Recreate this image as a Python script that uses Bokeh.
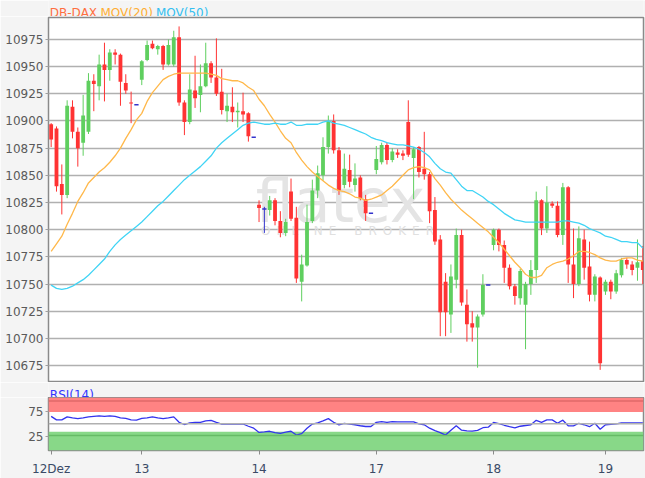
from bokeh.plotting import figure
from bokeh.models import Range1d, FixedTicker, ColumnDataSource, BoxAnnotation, Span
from bokeh.layouts import column
from bokeh.embed import file_html
from bokeh.resources import INLINE
from bokeh.core.properties import value

# ---------------- data ----------------
day_ticks = [0, 17, 39, 61, 83, 104]
day_labels = ["12Dez", "13", "14", "17", "18", "19"]

opens = [10897, 10893, 10842, 10832, 10913, 10890, 10880, 10890, 10937, 10932, 10952, 10947, 10963, 10961, 10935, 10917, 10915,
         10938, 10956, 10971, 10966, 10969, 10952, 10952, 10977, 10917, 10899, 10928, 10924, 10932, 10953, 10940, 10927, 10909, 10913, 10908, 10909, 10907, 10885,
         10823, 10819, 10818, 10827, 10808, 10797, 10835, 10811, 10752, 10767, 10808, 10836, 10850, 10876, 10900, 10873, 10841, 10855, 10841, 10848, 10828, 10815,
         10855, 10862, 10878, 10864, 10871, 10870, 10899, 10866, 10876, 10856, 10851, 10818, 10791, 10752, 10722, 10754, 10795, 10731, 10714, 10710, 10722, 10749,
         10786, 10800, 10786, 10765, 10748, 10737, 10731, 10750, 10763, 10827, 10801, 10824, 10822, 10795, 10839, 10768, 10750, 10791, 10766, 10740, 10756,
         10743, 10752, 10743, 10758, 10772, 10768, 10765, 10771]
highs = [10898, 10895, 10860, 10919, 10919, 10894, 10924, 10944, 10943, 10961, 10972, 10966, 10966, 10962, 10943, 10927, 10915,
         10956, 10974, 10974, 10970, 10970, 10975, 10983, 10987, 10919, 10943, 10960, 10952, 10972, 10955, 10976, 10948, 10925, 10931, 10917, 10926, 10908, 10885,
         10827, 10821, 10831, 10829, 10817, 10810, 10847, 10821, 10777, 10823, 10846, 10859, 10885, 10905, 10906, 10876, 10870, 10869, 10861, 10850, 10832, 10815,
         10877, 10880, 10880, 10875, 10874, 10873, 10919, 10876, 10877, 10890, 10853, 10830, 10795, 10760, 10768, 10801, 10800, 10745, 10725, 10722, 10759, 10749,
         10801, 10801, 10790, 10768, 10750, 10764, 10752, 10772, 10835, 10828, 10840, 10826, 10826, 10843, 10840, 10801, 10803, 10800, 10789, 10759, 10757,
         10754, 10754, 10763, 10774, 10774, 10771, 10791, 10785]
lows = [10876, 10835, 10814, 10829, 10884, 10858, 10868, 10888, 10909, 10919, 10918, 10937, 10952, 10914, 10925, 10898, 10915,
        10933, 10955, 10966, 10961, 10947, 10951, 10950, 10914, 10887, 10897, 10912, 10908, 10931, 10935, 10923, 10906, 10899, 10899, 10894, 10899, 10881, 10885,
        10807, 10797, 10813, 10804, 10793, 10794, 10808, 10751, 10734, 10766, 10806, 10829, 10845, 10870, 10870, 10832, 10838, 10839, 10835, 10827, 10808, 10815,
        10851, 10860, 10860, 10862, 10866, 10864, 10867, 10828, 10848, 10846, 10806, 10786, 10702, 10702, 10705, 10746, 10730, 10697, 10697, 10673, 10720, 10749,
        10781, 10780, 10751, 10745, 10731, 10731, 10690, 10740, 10751, 10795, 10797, 10820, 10793, 10786, 10751, 10737, 10748, 10754, 10734, 10734, 10671,
        10740, 10736, 10741, 10756, 10764, 10758, 10753, 10750]
closes = [10883, 10840, 10832, 10914, 10890, 10875, 10905, 10937, 10934, 10952, 10947, 10963, 10961, 10936, 10928, 10916, 10915,
          10955, 10970, 10967, 10969, 10952, 10970, 10977, 10917, 10899, 10929, 10921, 10932, 10953, 10940, 10925, 10910, 10914, 10908, 10909.5, 10906, 10886, 10885,
          10820, 10819, 10827, 10808, 10797, 10807, 10810, 10755, 10768, 10807, 10836, 10852, 10876, 10900, 10873, 10836, 10856, 10844, 10847, 10829, 10815, 10815,
          10865, 10878, 10864, 10872, 10869, 10868, 10869, 10874, 10853, 10851, 10817, 10789, 10724, 10724, 10757, 10795, 10733, 10713, 10710, 10720, 10749, 10749,
          10800, 10786, 10765, 10748, 10739, 10762, 10750, 10763, 10827, 10801, 10825, 10822, 10795, 10839, 10768, 10750, 10792, 10765, 10740, 10757, 10677,
          10752, 10743, 10760, 10772, 10768, 10763, 10770, 10763]

mov20 = [10780, 10787, 10794, 10805, 10815, 10826, 10834, 10843, 10848, 10853, 10857, 10862, 10868, 10875, 10884, 10892, 10901,
         10907, 10918, 10926, 10932, 10938, 10941, 10943, 10944, 10944, 10944, 10944, 10944, 10944, 10943, 10942, 10939, 10938, 10937, 10937, 10935, 10931, 10928,
         10920, 10914, 10906, 10899, 10891, 10884, 10880, 10871, 10864, 10858, 10853, 10849, 10845, 10841, 10838, 10836, 10835, 10833, 10830, 10829, 10827, 10828,
         10830, 10832, 10836, 10840, 10845, 10850, 10855, 10857, 10858, 10857, 10855, 10847, 10841, 10834, 10828, 10823, 10818, 10814, 10810, 10806, 10802, 10798,
         10793, 10788, 10782, 10776, 10770, 10765, 10759, 10756, 10756, 10758, 10765, 10768, 10770, 10771, 10773, 10776, 10780, 10780, 10779, 10777, 10774,
         10772, 10771, 10771, 10773, 10774, 10774, 10772, 10771]
mov50 = [10749, 10746, 10745, 10746, 10748, 10751, 10754, 10758, 10763, 10768, 10773, 10780, 10786, 10791, 10795, 10799, 10803,
         10807, 10812, 10817, 10822, 10826, 10831, 10836, 10841, 10846, 10850, 10854, 10858, 10863, 10868, 10875, 10880, 10884, 10888, 10892, 10896, 10898, 10899,
         10898, 10897, 10897, 10898, 10897, 10897, 10899, 10896, 10896, 10897, 10897, 10897, 10899, 10900, 10898, 10897, 10896, 10894, 10892, 10890, 10888, 10885,
         10883, 10882, 10880, 10879, 10878, 10878, 10877, 10876, 10874, 10871, 10867, 10861, 10856, 10853, 10852, 10846, 10840, 10836, 10836, 10833, 10830, 10826,
         10823, 10819, 10815, 10812, 10809, 10808, 10807, 10807, 10807, 10807, 10807, 10807, 10807, 10808, 10808, 10807, 10806, 10804, 10801, 10799, 10797,
         10794, 10793, 10791, 10789, 10789, 10788, 10788, 10783]
rsi14 = [66, 59, 59, 65, 63, 61.5, 63, 65, 66, 67, 66, 67, 66, 63, 62, 59, 58.5,
         62, 63, 65, 63, 61.5, 63, 65, 54, 49.5, 53, 54, 54, 57, 58, 54, 50.5, 50.5, 50.5, 50.5, 50.5, 46, 42,
         33.5, 34.5, 35.8, 33, 31.5, 34, 35.8, 28, 31, 42, 50.5, 53, 57, 61.5, 54, 48.7, 52, 50.5, 49, 47, 45.5, 45.5,
         54, 55.5, 54, 55.5, 55, 55, 55, 55, 50.6, 49, 42, 37, 33, 28, 38, 47, 38, 36.5, 36, 37.5, 43, 44,
         53.8, 51.5, 48, 45, 42.5, 46, 47.5, 49, 58, 54, 58.9, 58.9, 52, 58.3, 47, 46.7, 52, 49, 45, 52, 40,
         49, 50, 50.6, 52.6, 52.6, 52.6, 52.6, 52.6]

price_ticks = [10675, 10700, 10725, 10750, 10775, 10800, 10825, 10850, 10875, 10900, 10925, 10950, 10975]
rsi_ticks = [25, 75]
rsi_overbought = [75, 104.4]
rsi_oversold = [-3.3, 35]
rsi_lines = [97.5, 51, 27]

legend_texts = ["DB-DAX", "MOV(20)", "MOV(50)"]
rsi_legend = "RSI(14)"

# ---------------- styling ----------------
FONT = "DejaVu Sans"
GREEN = "#5fcf5f"
RED = "#ff3333"
BLUE = "#3333cc"
BG = "#f4f4f4"
W = 645
FRAME_L, FRAME_R = 48, 643   # frame edges in page pixels (frames are aligned in the column)


def strip(height):
    s = figure(width=W, height=height, x_range=Range1d(FRAME_L, FRAME_R), y_range=Range1d(0, height),
               output_backend="svg", toolbar_location=None, x_axis_location=None, y_axis_location=None,
               min_border_left=FRAME_L, min_border_right=W - FRAME_R, min_border_top=0, min_border_bottom=0)
    s.border_fill_color = BG
    s.background_fill_color = BG
    s.outline_line_color = None
    s.grid.visible = False
    return s


n = len(opens)
idx = list(range(n))
col, btop, bbot = [], [], []
flat_x0, flat_x1, flat_y = [], [], []
for i in idx:
    o, c = opens[i], closes[i]
    if c > o:
        col.append(GREEN)
    elif c < o:
        col.append(RED)
    else:
        col.append(BLUE)
        flat_x0.append(i - 0.4)
        flat_x1.append(i + 0.4)
        flat_y.append(o)
    btop.append(max(o, c))
    bbot.append(min(o, c))

src = ColumnDataSource(dict(x=idx, o=opens, h=highs, l=lows, c=closes, top=btop, bot=bbot, color=col))

# ---------------- legend strip ----------------
leg = strip(16)
leg.text(x=[49.3, 100, 155.5], y=[3.3, 3.3, 3.3], text=legend_texts,
         text_color=["#ff6e40", "#ffae33", "#33bff0"], text_font=value(FONT),
         text_font_size="12px", text_baseline="alphabetic")

# ---------------- main price panel ----------------
xr = Range1d(-0.5, 111.13)
p = figure(width=W, height=366, x_range=xr, y_range=Range1d(10660.3, 10995.2),
           output_backend="svg", toolbar_location=None, x_axis_location=None,
           min_border_left=FRAME_L, min_border_right=W - FRAME_R, min_border_top=1, min_border_bottom=1)
p.border_fill_color = BG
p.background_fill_color = "white"
p.outline_line_color = "#8a8a8a"
p.outline_line_width = 1.5
p.xgrid.visible = False
p.ygrid.ticker = FixedTicker(ticks=price_ticks)
p.ygrid.grid_line_color = "#b0b0b0"
p.ygrid.grid_line_width = 1.5
p.yaxis.ticker = FixedTicker(ticks=price_ticks)
p.yaxis.axis_line_color = None
p.yaxis.major_tick_out = 3
p.yaxis.major_tick_in = 0
p.yaxis.minor_tick_line_color = None
p.yaxis.major_tick_line_color = "#a0a0a0"
p.yaxis.major_label_standoff = 2
p.yaxis.major_label_text_font = FONT
p.yaxis.major_label_text_font_size = "12px"
p.yaxis.major_label_text_color = "#5a5a5a"

# watermark
p.text(x=[54.3], y=[10826], text=["flatex"], text_font=value(FONT),
       text_font_size="60px", text_color="#e4e4e4", text_align="center", text_baseline="alphabetic")
sp = "\u2002"
p.text(x=[55.6], y=[10799], text=[sp.join("ONLINE") + sp * 3 + sp.join("BROKER")], text_font=value(FONT),
       text_font_size="12px", text_color="#e0e0e0", text_align="center", text_baseline="alphabetic")

# candles
p.segment(x0="x", y0="h", x1="x", y1="l", color="color", line_width=1, source=src)
p.vbar(x="x", width=0.72, top="top", bottom="bot", fill_color="color", line_color=None, source=src)
p.segment(x0=flat_x0, y0=flat_y, x1=flat_x1, y1=flat_y, color=BLUE, line_width=1.5)

# moving averages
p.line(idx, mov20, color="#ffb84a", line_width=1.3)
p.line(idx, mov50, color="#40d4f5", line_width=1.3)

# ---------------- RSI legend strip ----------------
leg2 = strip(15)
leg2.text(x=[49.3], y=[3], text=[rsi_legend], text_color="#3333ff", text_font=value(FONT),
          text_font_size="12px", text_baseline="alphabetic")

# ---------------- RSI panel ----------------
r = figure(width=W, height=81, x_range=xr, y_range=Range1d(-3.3, 104.4),
           output_backend="svg", toolbar_location=None,
           min_border_left=FRAME_L, min_border_right=W - FRAME_R, min_border_top=0, min_border_bottom=25)
r.border_fill_color = BG
r.background_fill_color = "white"
r.outline_line_color = "#8a8a8a"
r.outline_line_width = 1.5
r.xgrid.visible = False
r.ygrid.visible = False
r.add_layout(BoxAnnotation(bottom=rsi_overbought[0], top=rsi_overbought[1], fill_color="#ff8383",
                           fill_alpha=1, line_color=None, level="underlay"))
r.add_layout(BoxAnnotation(bottom=rsi_oversold[0], top=rsi_oversold[1], fill_color="#88d888",
                           fill_alpha=1, line_color=None, level="underlay"))
r.add_layout(Span(location=rsi_lines[0], dimension="width", line_color="#e06868", line_width=1.5))
r.add_layout(Span(location=rsi_lines[1], dimension="width", line_color="#b0b0b0", line_width=1.5))
r.add_layout(Span(location=rsi_lines[2], dimension="width", line_color="#66bb66", line_width=1.5))
r.line(idx, rsi14, color="#3333ee", line_width=1.3)

r.yaxis.ticker = FixedTicker(ticks=rsi_ticks)
r.yaxis.axis_line_color = None
r.yaxis.major_tick_out = 3
r.yaxis.major_tick_in = 0
r.yaxis.minor_tick_line_color = None
r.yaxis.major_tick_line_color = "#a0a0a0"
r.yaxis.major_label_standoff = 2
r.yaxis.major_label_text_font = FONT
r.yaxis.major_label_text_font_size = "12px"
r.yaxis.major_label_text_color = "#5a5a5a"

r.xaxis.ticker = FixedTicker(ticks=day_ticks)
r.xaxis.major_label_overrides = {t: lab for t, lab in zip(day_ticks, day_labels)}
r.xaxis.axis_line_color = None
r.xaxis.major_tick_out = 4
r.xaxis.major_tick_in = 0
r.xaxis.minor_tick_line_color = None
r.xaxis.major_tick_line_color = "#8a8a8a"
r.xaxis.major_label_standoff = 7
r.xaxis.major_label_text_font = FONT
r.xaxis.major_label_text_font_size = "12px"
r.xaxis.major_label_text_color = "#3a4a66"

layout = column(leg, p, leg2, r, spacing=0)
open("out.html", "w").write(file_html(layout, INLINE))
